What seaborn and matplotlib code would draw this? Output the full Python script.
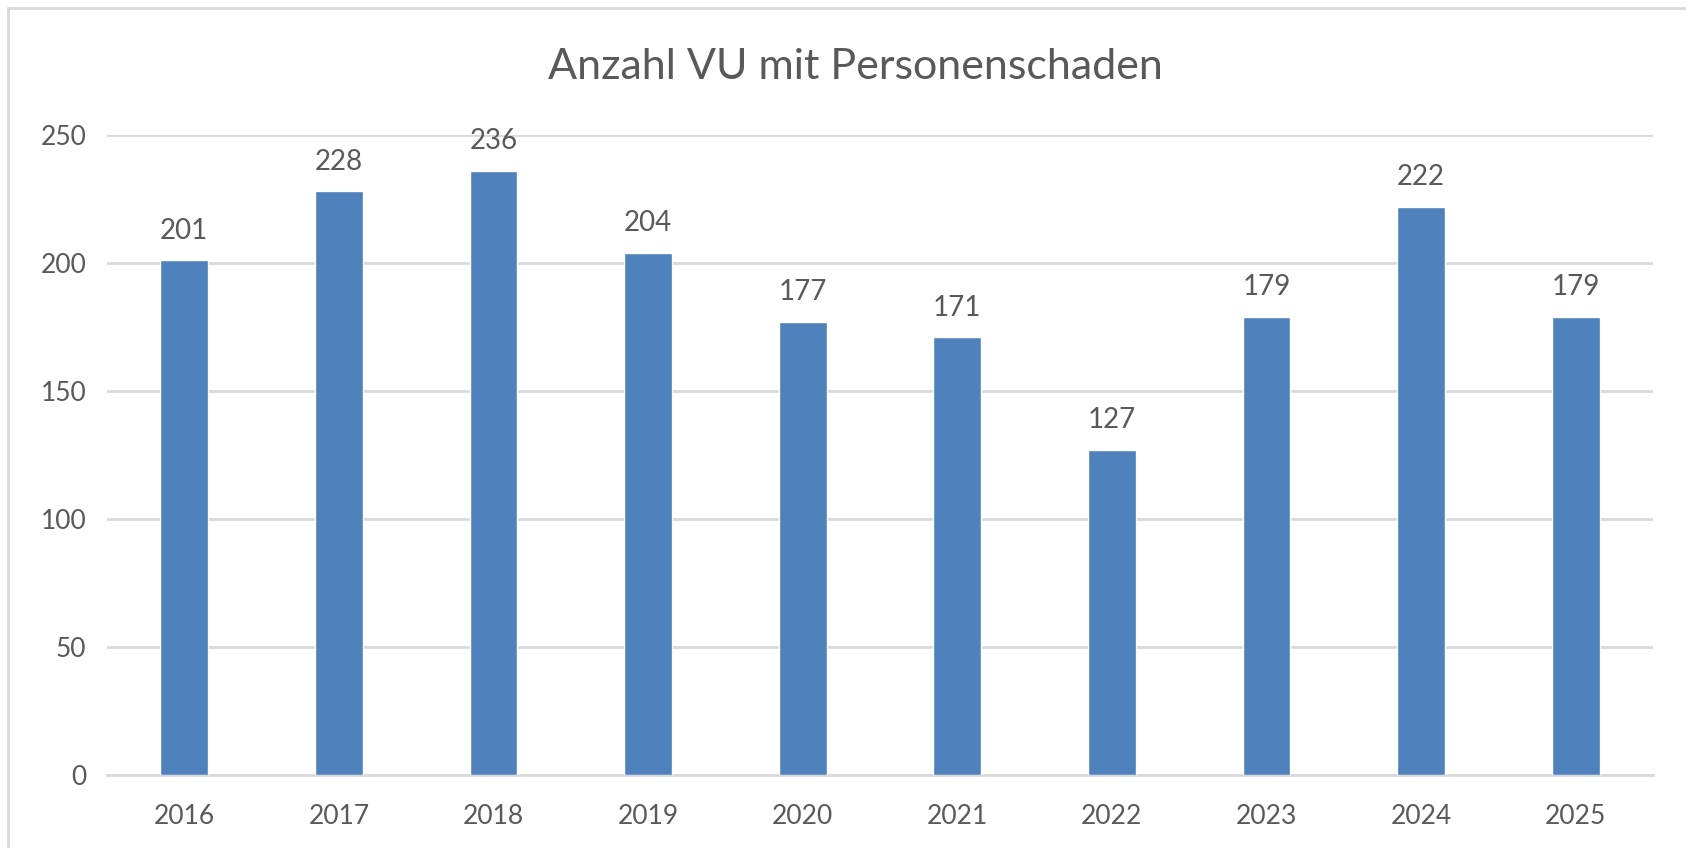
import matplotlib
matplotlib.use("Agg")
import matplotlib.pyplot as plt
import seaborn as sns
import pandas as pd
from matplotlib.lines import Line2D

years = ["2016", "2017", "2018", "2019", "2020", "2021", "2022", "2023", "2024", "2025"]
accidents = [201, 228, 236, 204, 177, 171, 127, 179, 222, 179]
y_ticks = [0, 50, 100, 150, 200, 250]
title = "Anzahl VU mit Personenschaden"

sns.set_theme(style="white")
plt.rcParams["font.family"] = ["Lato", "DejaVu Sans"]

text_color = "#595959"
grid_color = "#d9d9d9"
bar_color = "#4f81bd"

df = pd.DataFrame({"Jahr": years, "Anzahl": accidents})

fig = plt.figure(figsize=(16.86, 8.48), dpi=100)
ax = fig.add_axes([107 / 1686, 1 - 775 / 848, (1653 - 107) / 1686, (775 - 135) / 848])

sns.barplot(data=df, x="Jahr", y="Anzahl", order=years, color=bar_color,
            width=0.31, saturation=1, ax=ax, zorder=3)

ax.set_ylim(0, 250)
ax.set_xlim(-0.5, len(years) - 0.5)
ax.set_yticks(y_ticks)
ax.set_yticklabels([str(t) for t in y_ticks])
ax.yaxis.grid(True, color=grid_color, linewidth=2, zorder=0)
ax.set_axisbelow(True)
for s in ["top", "right", "left"]:
    ax.spines[s].set_visible(False)
ax.spines["bottom"].set_color(grid_color)
ax.spines["bottom"].set_linewidth(2)
ax.tick_params(axis="both", length=0, labelsize=19, labelcolor=text_color)
ax.tick_params(axis="x", pad=21)
ax.tick_params(axis="y", pad=15)
ax.set_xlabel("")
ax.set_ylabel("")

ax.bar_label(ax.containers[0], labels=[str(v) for v in accidents],
             padding=12, fontsize=20, color=text_color)

fig.text(855 / 1686, 1 - 67 / 848, title, ha="center", va="center",
         fontsize=31, color=text_color)

# chart frame
fig.add_artist(Line2D([8 / 1686, 1.0], [1 - 8 / 848] * 2, transform=fig.transFigure,
                      color=grid_color, linewidth=2))
fig.add_artist(Line2D([8 / 1686] * 2, [0.0, 1 - 8 / 848], transform=fig.transFigure,
                      color=grid_color, linewidth=2))

fig.savefig("out.png", dpi=100, facecolor="white")
